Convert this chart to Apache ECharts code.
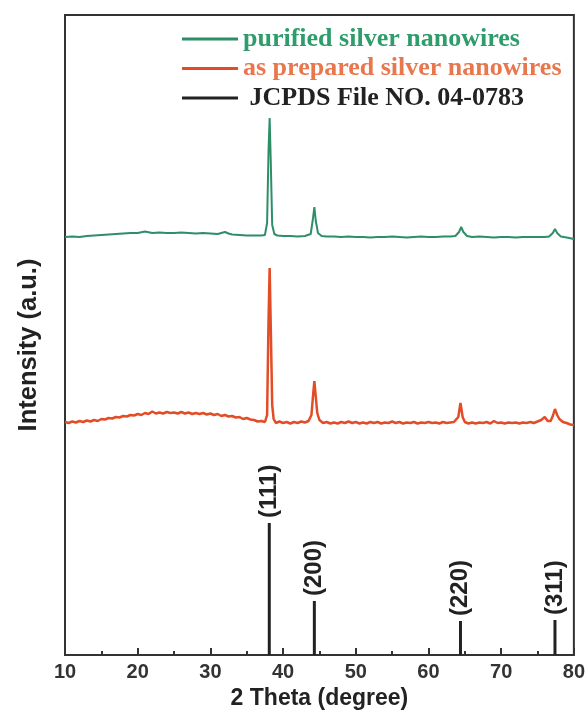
<!DOCTYPE html>
<html>
<head>
<meta charset="utf-8">
<script src="https://cdn.jsdelivr.net/npm/echarts@6/dist/echarts.min.js"></script>
<style>html,body{margin:0;padding:0;background:#fff}#c{width:588px;height:718px}</style>
</head>
<body>
<div id="c"></div>
<script>
// ---- data (2θ in degrees, intensity in arbitrary units) ----
const xTicks = [10, 20, 30, 40, 50, 60, 70, 80];
const seriesNames = ['purified silver nanowires', 'as prepared silver nanowires', ' JCPDS File NO. 04-0783'];

const purified = [
  [10,418],[11,418.5],[12,418],[13,419],[14,419.5],[15,420],[16,420.5],[17,421],[18,421.5],[19,422],
  [20,422],[21,423.5],[22,422],[23,422.5],[24,422],[25,422],[26,422.5],[27,422],[28,421.5],[29,422],
  [30,421.5],[31,421],[32,423],[32.5,421.5],[33,420.5],[34,420],[35,419.5],[36,419.5],[37,419.5],[37.5,420],
  [37.8,432],[38.0,505],[38.15,537],[38.3,495],[38.5,430],[38.8,421],[39.2,419.5],[40,419],[41,419],[42,418.5],
  [43,419],[43.8,421],[44.1,436],[44.3,448],[44.5,434],[44.8,422],[45.3,419],[46,418.5],[47,418.5],[48,418],
  [49,418.5],[50,418],[51,418],[52,417.5],[53,418],[54,418],[55,418.5],[56,418],[57,417.5],[58,418],
  [59,418.5],[60,418],[61,418],[62,418.5],[63,418.5],[63.7,419],[64.2,423],[64.5,428],[64.8,423],[65.3,419],
  [66,418],[67,418.5],[68,418],[69,417.5],[70,418],[71,418],[72,417.5],[73,418],[74,418],[75,418],
  [76,418],[76.6,418.5],[77.1,422],[77.4,426],[77.7,422],[78.2,418.5],[79,417.5],[80,416]
];

const asPrepared = [
  [10,233],[10.5,232],[11,233.5],[11.5,232.5],[12,234],[12.5,233],[13,234.5],[13.5,233.5],[14,235],[14.5,234],
  [15,236],[15.5,235.5],[16,237],[16.5,236.5],[17,238],[17.5,237.5],[18,239],[18.5,238.5],[19,240],[19.5,239.5],
  [20,241],[20.5,240],[21,242],[21.5,241],[22,243.5],[22.5,241.5],[23,242.5],[23.5,241.5],[24,243],[24.5,242],
  [25,242.5],[25.5,241.5],[26,243],[26.5,241.5],[27,242.5],[27.5,241],[28,242],[28.5,241],[29,242],[29.5,240.5],
  [30,241.5],[30.5,240],[31,241],[31.5,239],[32,240],[32.5,238.5],[33,239],[33.5,237.5],[34,238],[34.5,236],
  [35,237],[35.5,235.5],[36,235],[36.5,233.5],[37,234],[37.5,233],[37.8,240],[38.0,335],[38.15,387],[38.3,330],
  [38.5,250],[38.7,236],[39,232],[39.5,233.5],[40,232],[40.5,233],[41,231.5],[41.5,233],[42,232],[42.5,233.5],
  [43,232.5],[43.5,234],[43.9,240],[44.15,262],[44.3,274],[44.45,262],[44.7,242],[45,235],[45.5,232],[46,233],
  [46.5,231.5],[47,232.5],[47.5,231.5],[48,233],[48.5,232],[49,233.5],[49.5,232],[50,233],[50.5,231.5],[51,232.5],
  [51.5,231.5],[52,233],[52.5,232],[53,233],[53.5,231.5],[54,232.5],[54.5,232],[55,233.5],[55.5,232],[56,233],
  [56.5,231.5],[57,232.5],[57.5,232],[58,233],[58.5,231.5],[59,232.5],[59.5,232],[60,233],[60.5,232],[61,232.5],
  [61.5,231.5],[62,233],[62.5,232],[63,232.5],[63.5,233],[64.1,238],[64.4,252],[64.7,238],[65,233],[65.5,231.5],
  [66,232.5],[66.5,231.5],[67,232.5],[67.5,232],[68,233],[68.5,231.5],[69,234],[69.5,232],[70,232.5],[70.5,231.5],
  [71,232.5],[71.5,232],[72,232.5],[72.5,231.5],[73,232.5],[73.5,232],[74,233],[74.5,232],[75,233.5],[75.5,235],
  [76,238],[76.4,234],[76.8,234],[77.1,239],[77.4,246],[77.7,240],[78,236],[78.5,233],[79,232],[79.5,230.5],[80,230]
];

const jcpdsPos = [38.1, 44.3, 64.4, 77.4];
const jcpdsInt = [132, 54, 34, 35];
const jcpdsHkl = ['(111)', '(200)', '(220)', '(311)'];

// ---- chart ----
const chart = echarts.init(document.getElementById('c'), null, {renderer: 'canvas'});
const axisColor = '#333';
const sans = '"Liberation Sans", Arial, sans-serif';
const serif = '"Liberation Serif", "Times New Roman", serif';

chart.setOption({
  animation: false,
  backgroundColor: '#fff',
  grid: {left: 65, right: 11, top: 15, bottom: 63, show: true, borderColor: axisColor, borderWidth: 2, backgroundColor: 'transparent'},
  legend: {
    orient: 'vertical', left: 182, top: 26, padding: 0, icon: 'rect', itemWidth: 56, itemHeight: 3, itemGap: 3.5,
    data: [
      {name: seriesNames[0], textStyle: {color: '#2f9c6c'}},
      {name: seriesNames[1], textStyle: {color: '#e8774e'}},
      {name: seriesNames[2], textStyle: {color: '#222'}}
    ],
    textStyle: {fontFamily: serif, fontWeight: 'bold', fontSize: 26, lineHeight: 26},
    selectedMode: false
  },
  xAxis: {
    type: 'value', min: 10, max: 80, interval: 10,
    name: '2 Theta (degree)', nameLocation: 'middle', nameGap: 30,
    nameTextStyle: {fontFamily: sans, fontWeight: 'bold', fontSize: 23, color: '#222'},
    axisLine: {show: true, lineStyle: {color: axisColor, width: 2}},
    axisTick: {show: true, inside: true, length: 7, lineStyle: {color: axisColor, width: 2}},
    minorTick: {show: true, splitNumber: 2, length: 4, lineStyle: {color: axisColor, width: 2}},
    axisLabel: {fontFamily: sans, fontWeight: 'bold', fontSize: 20, color: '#333', margin: 7,
      formatter: v => xTicks.includes(v) ? String(v) : ''},
    splitLine: {show: false}
  },
  yAxis: {
    type: 'value', min: 0, max: 640,
    name: 'Intensity (a.u.)', nameLocation: 'middle', nameGap: 23,
    nameTextStyle: {fontFamily: sans, fontWeight: 'bold', fontSize: 25.5, color: '#222', padding: [0, 20, 0, 0]},
    axisLine: {show: true, lineStyle: {color: axisColor, width: 2}},
    axisTick: {show: false}, axisLabel: {show: false}, splitLine: {show: false}
  },
  series: [
    {
      name: seriesNames[0], type: 'line', data: purified, showSymbol: false, symbol: 'none',
      itemStyle: {color: '#2e8e68'}, lineStyle: {color: '#2e8e68', width: 2}
    },
    {
      name: seriesNames[1], type: 'line', data: asPrepared, showSymbol: false, symbol: 'none',
      itemStyle: {color: '#e24d27'}, lineStyle: {color: '#e24d27', width: 2.5}
    },
    {
      name: seriesNames[2], type: 'bar', barWidth: 3,
      data: jcpdsPos.map((p, i) => [p, jcpdsInt[i]]),
      itemStyle: {color: '#222'},
      label: {
        show: true, position: 'top', rotate: 90, align: 'left', verticalAlign: 'middle', distance: 5,
        fontFamily: sans, fontWeight: 'bold', fontSize: 24, color: '#222',
        formatter: p => jcpdsHkl[p.dataIndex]
      }
    }
  ]
});
</script>
</body>
</html>
